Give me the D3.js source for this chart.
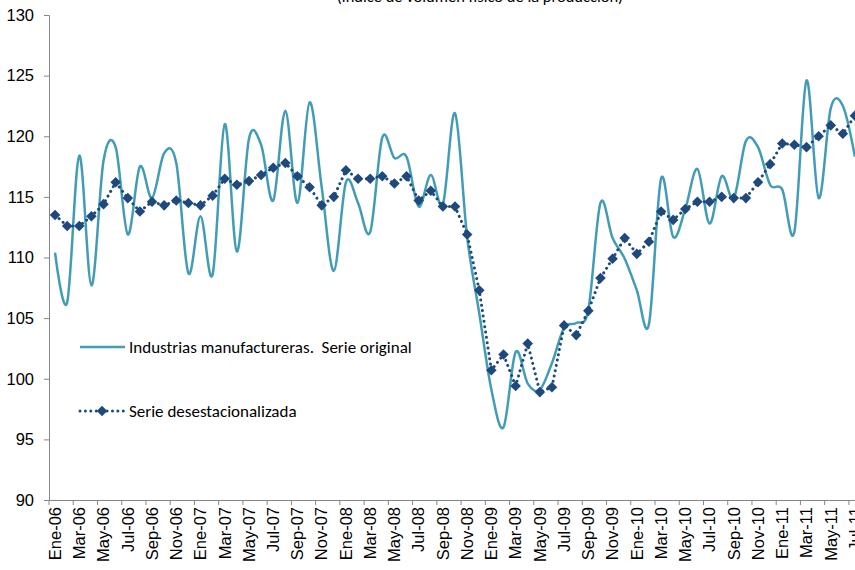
<!DOCTYPE html>
<html>
<head>
<meta charset="utf-8">
<script src="https://cdn.jsdelivr.net/npm/d3@7/dist/d3.min.js"></script>
<style>
  body { margin: 0; background: #fff; }
  svg { display: block; font-family: Carlito, Calibri, Lato, "Open Sans", sans-serif; }
</style>
</head>
<body>
<svg id="chart" width="855" height="570"></svg>
<script>
// month names and years used for the category labels
var monthNames = ["Ene", "Feb", "Mar", "Abr", "May", "Jun", "Jul", "Ago", "Sep", "Oct", "Nov", "Dic"];
var years = ["06", "07", "08", "09", "10", "11"];

// Industrias manufactureras. Serie original (Ene-06 .. Jul-11)
var original = [
  110.4, 106.3, 118.4, 107.7, 118.0, 119.1, 111.9, 117.5, 114.9, 118.6, 117.8, 108.7,
  113.4, 108.6, 121.0, 110.5, 119.8, 119.3, 114.7, 122.1, 114.5, 122.8, 115.8, 108.9,
  116.2, 114.5, 112.1, 119.9, 118.2, 118.3, 114.2, 116.8, 114.4, 121.9, 111.7, 105.4,
  99.1, 96.0, 102.2, 99.6, 99.1, 101.3, 104.2, 104.6, 105.7, 114.5, 111.6, 109.9,
  107.3, 104.5, 116.5, 111.7, 114.0, 117.3, 112.8, 116.7, 114.9, 119.6, 119.1, 116.0,
  115.6, 112.1, 124.6, 114.9, 122.3, 122.5, 118.3
];

// Serie desestacionalizada (Ene-06 .. Jul-11)
var desest = [
  113.5, 112.6, 112.6, 113.4, 114.4, 116.2, 114.9, 113.8, 114.6, 114.3, 114.7, 114.5,
  114.3, 115.1, 116.5, 116.0, 116.3, 116.8, 117.4, 117.8, 116.7, 115.8, 114.3, 115.0,
  117.2, 116.5, 116.5, 116.7, 116.1, 116.7, 114.7, 115.5, 114.2, 114.2, 111.9, 107.3,
  100.7, 102.0, 99.4, 102.9, 98.9, 99.3, 104.4, 103.6, 105.6, 108.3, 109.9, 111.6,
  110.3, 111.3, 113.8, 113.1, 114.0, 114.6, 114.6, 115.0, 114.9, 114.9, 116.2, 117.7,
  119.4, 119.3, 119.1, 120.0, 120.9, 120.2, 121.7
];

var yTicks = [90, 95, 100, 105, 110, 115, 120, 125, 130];

(function() {

var categories = [];
years.forEach(function(yr) {
  monthNames.forEach(function(m) { categories.push(m + "-" + yr); });
});
categories = categories.slice(0, original.length);

var svg = d3.select("#chart");
var plotLeft = 49, plotTop = 15, plotBottom = 500;
var step = 12.12;

var x = d3.scaleBand()
  .domain(categories)
  .range([plotLeft, plotLeft + categories.length * step])
  .padding(0);
var bw = x.bandwidth();
var cx = function(i) { return x(categories[i]) + bw / 2; };

var y = d3.scaleLinear().domain([90, 130]).range([plotBottom, plotTop]);

var axisColor = "#868686";
var textColor = "#000";
var axisFont = "16.5px";
var legendFont = "17px";

// title (mostly cut off at the top)
svg.append("text")
  .attr("x", 480)
  .attr("y", 2)
  .attr("text-anchor", "middle")
  .style("font-size", axisFont)
  .attr("fill", textColor)
  .text("(índice de volumen físico de la producción)");

// y axis
var yAxis = svg.append("g")
  .attr("transform", "translate(" + plotLeft + ",0)")
  .call(d3.axisLeft(y).tickValues(yTicks).tickSize(5).tickPadding(10).tickFormat(d3.format("d")));
yAxis.select(".domain").attr("stroke", axisColor);
yAxis.selectAll(".tick line").attr("stroke", axisColor);
yAxis.selectAll(".tick text")
  .style("font-size", axisFont)
  .attr("fill", textColor)
  .attr("font-family", null);

// x axis: tick marks at the start of every other category, labels centred
var xAxis = svg.append("g")
  .attr("transform", "translate(0," + plotBottom + ")")
  .call(d3.axisBottom(x)
    .tickValues(categories.filter(function(d, i) { return i % 2 === 0; }))
    .tickSize(5)
    .tickSizeOuter(0));
xAxis.select(".domain").attr("stroke", axisColor);
xAxis.selectAll(".tick line")
  .attr("stroke", axisColor)
  .attr("x1", -bw / 2)
  .attr("x2", -bw / 2);
xAxis.selectAll(".tick text")
  .style("font-size", axisFont)
  .attr("fill", textColor)
  .attr("font-family", null)
  .attr("transform", "rotate(-90)")
  .attr("text-anchor", "end")
  .attr("x", -7)
  .attr("y", 0)
  .attr("dy", "0.35em");

var origColor = "#429CB6";
var desColor = "#1F497D";

// original series, smoothed like the spreadsheet line
var lineOrig = d3.line()
  .x(function(d, i) { return cx(i); })
  .y(function(d) { return y(d); })
  .curve(d3.curveCardinal.tension(0));

svg.append("path")
  .datum(original)
  .attr("d", lineOrig)
  .attr("fill", "none")
  .attr("stroke", origColor)
  .attr("stroke-width", 2.5);

// seasonally adjusted series: dotted straight line plus diamonds
var lineDes = d3.line()
  .x(function(d, i) { return cx(i); })
  .y(function(d) { return y(d); });

svg.append("path")
  .datum(desest)
  .attr("d", lineDes)
  .attr("fill", "none")
  .attr("stroke", desColor)
  .attr("stroke-width", 3)
  .attr("stroke-linecap", "round")
  .attr("stroke-dasharray", "0.01 5.4");

var diamond = d3.symbol().type(d3.symbolSquare).size(56);
svg.selectAll(".dm")
  .data(desest)
  .enter()
  .append("path")
  .attr("class", "dm")
  .attr("d", diamond)
  .attr("fill", desColor)
  .attr("transform", function(d, i) {
    return "translate(" + cx(i) + "," + y(d) + ") rotate(45)";
  });

// legend
var lg = svg.append("g");
lg.append("line")
  .attr("x1", 80).attr("x2", 125)
  .attr("y1", 347).attr("y2", 347)
  .attr("stroke", origColor)
  .attr("stroke-width", 2.5);
lg.append("text")
  .attr("x", 129).attr("y", 347)
  .attr("dy", "0.35em")
  .style("font-size", legendFont)
  .attr("fill", textColor)
  .attr("xml:space", "preserve")
  .text("Industrias manufactureras.  Serie original");

lg.append("line")
  .attr("x1", 80).attr("x2", 125)
  .attr("y1", 411).attr("y2", 411)
  .attr("stroke", desColor)
  .attr("stroke-width", 3)
  .attr("stroke-linecap", "round")
  .attr("stroke-dasharray", "0.01 5.4");
lg.append("path")
  .attr("d", diamond)
  .attr("fill", desColor)
  .attr("transform", "translate(102,411) rotate(45)");
lg.append("text")
  .attr("x", 129).attr("y", 411)
  .attr("dy", "0.35em")
  .style("font-size", legendFont)
  .attr("fill", textColor)
  .text("Serie desestacionalizada");

})();
</script>
</body>
</html>
